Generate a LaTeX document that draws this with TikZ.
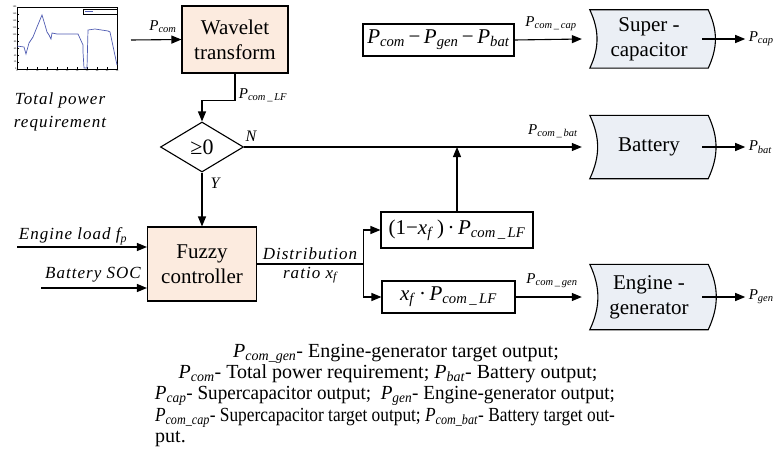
\documentclass[tikz,border=0pt]{standalone}
\usepackage{graphicx}
\usepackage{fontspec}
\setmainfont{Liberation Serif}
\newfontfamily\widefont[LetterSpace=6]{Liberation Serif}
\usetikzlibrary{arrows.meta,shapes.geometric,backgrounds}
\definecolor{peach}{RGB}{252,235,223}
\definecolor{storefill}{RGB}{235,239,245}
\definecolor{curveblue}{RGB}{80,92,178}
\newcommand\Pw[1]{\textit{P}\textsubscript{\textit{#1}}}
\newcommand\storebox[1]{\draw[line width=1.1pt,fill=storefill] (#1.north west) to[bend left=25] (#1.south west) -- (#1.south east) to[bend right=25] (#1.north east) -- cycle;}
\newsavebox\linebox
\newcommand\fitline[2]{\sbox\linebox{#2}\ifdim\wd\linebox>#1\relax\resizebox{#1}{\height}{\usebox\linebox}\else\makebox[#1][s]{#2}\fi}
\tikzset{
  blk/.style={draw,line width=1.1pt,fill=peach,align=center,inner sep=0,font=\fontsize{21}{25}\selectfont},
  frm/.style={draw,line width=1.1pt,inner sep=0,font=\fontsize{21}{25}\selectfont},
  sto/.style={align=center,inner sep=0,minimum width=118,font=\fontsize{21}{25}\selectfont},
  lab/.style={inner sep=0,font=\fontsize{15}{18}\selectfont},
  itl/.style={inner sep=0,align=center,font=\fontsize{17}{23}\selectfont\widefont\itshape},
  captxt/.style={inner sep=0,text height=14pt,text depth=4pt,font=\fontsize{20}{22}\selectfont},
  tick/.style={inner sep=0.4,font=\fontsize{2.5}{3}\selectfont},
  ar/.style={line width=1.1pt,-{Triangle[length=10pt,width=8pt]}},
  ln/.style={line width=1.1pt}
}
\begin{document}
\begin{tikzpicture}[x=1pt,y=-1pt]
\useasboundingbox (0,0) rectangle (775,468);
% thumbnail of the power curve
\draw[line width=0.4pt] (17,7) rectangle (117,69);
\foreach \i in {0,...,9}{
  \pgfmathtruncatemacro\v{20*\i}
  \draw[line width=0.3pt] (17,69-6.89*\i) -- ++(1.5,0);
  \node[tick,anchor=east] at (17,69-6.89*\i) {\v};
}
\foreach \i in {0,...,10}{
  \pgfmathtruncatemacro\v{5*\i}
  \draw[line width=0.3pt] (17+10*\i,69) -- ++(0,-1.5);
  \node[tick,anchor=north] at (17+10*\i,69) {\v};
}
\draw[line width=0.3pt] (83,9) rectangle (117,14);
\draw[curveblue,line width=0.6pt] (85,11.5) -- (93,11.5);
\draw[curveblue,line width=0.7pt] (17,46) -- (24,47) -- (26,54) -- (29,43) -- (33,37) -- (37,27) -- (42,15) -- (45,25) -- (47,32) -- (49,35) -- (51,39) -- (52,33) -- (57,34) -- (67,34) -- (78,34) -- (83,45) -- (83,52) -- (84,68) -- (87,68) -- (88,30) -- (95,29) -- (108,31) -- (110,32) -- (117,65);
\node[itl] (tp) at (60,112) {Total power\\requirement};

\node[blk,minimum width=106,minimum height=67] (w) at (235,39.5) {Wavelet\\transform};
\coordinate (in) at (131,40);
\node[lab] (lcom) at (163,27) {\Pw{com}};
\draw[ar] (in) -- (w.west);

\node[draw,diamond,line width=1.1pt,inner sep=0,minimum width=83,minimum height=50,aspect=1.66,font=\fontsize{22}{25}\selectfont] (d) at (202,147) {≥0};
\draw[ar] (w.south) -- ++(0,27) -| (d.north);
\node[lab] (llf) at (263,95) {\Pw{com\,\_\,LF}};
\node[lab,font=\fontsize{16}{18}\selectfont\itshape] (ln) at (251,136) {N};
\node[lab,font=\fontsize{16}{18}\selectfont\itshape] (ly) at (215,183) {Y};

\node[blk,minimum width=109,minimum height=74] (fz) at (202,264) {Fuzzy\\controller};
\draw[ar] (d.south) -- (fz.north);
\coordinate (e1) at (17,247);
\coordinate (e2) at (41,288);
\draw[ar] (e1) -- (e1 -| fz.west);
\draw[ar] (e2) -- (e2 -| fz.west);
\node[itl] (le) at (73,236) {Engine load \textit{f}\textsubscript{\textit{p}}};
\node[itl] (lb) at (93,275) {Battery SOC};
\node[itl] (ld) at (310,254) {Distribution};
\node[itl] (lr) at (310,275) {ratio \textit{x}\textsubscript{\textit{f}}};

\node[frm,minimum width=152,minimum height=36] (f1) at (457,230) {(1−\textit{x}\textsubscript{\textit{f}}\,)\,·\,\Pw{com\,\_\,LF}};
\node[frm,minimum width=133,minimum height=32] (f2) at (448.5,297) {\textit{x}\textsubscript{\textit{f}}\,·\,\Pw{com\,\_\,LF}};
\node[frm,minimum width=151,minimum height=32] (pb) at (438.5,40) {\Pw{com}\,−\,\Pw{gen}\,−\,\Pw{bat}};
\draw[ln] (fz.east) -- ++(106,0) coordinate (sp);
\draw[ar] (sp) |- (f1.west);
\draw[ar] (sp) |- (f2.west);

\node[sto,minimum height=58] (sc) at (649,39) {Super -\\capacitor};
\node[sto,minimum height=63] (bat) at (649,147) {Battery};
\node[sto,minimum height=65] (eg) at (649,297) {Engine -\\generator};
\begin{scope}[on background layer]
\storebox{sc}
\storebox{bat}
\storebox{eg}
\end{scope}

\draw[ar] (pb.east) -- ([xshift=-8]sc.west);
\draw[ar] (d.east) -- ([xshift=-8]bat.west);
\draw[ar] (f1.north) -- (f1.north |- d.east);
\draw[ar] (f2.east) -- ([xshift=-8]eg.west);
\node[lab] (lcc) at (551,24) {\Pw{com\,\_\,cap}};
\node[lab] (lcb) at (553,131) {\Pw{com\,\_\,bat}};
\node[lab] (lcg) at (552,281) {\Pw{com\,\_\,gen}};

\draw[ar] ([xshift=-6]sc.east) -- ++(43,0) node[lab,anchor=west,xshift=3] (ocap) {\Pw{cap}};
\draw[ar] ([xshift=-6]bat.east) -- ++(43,0) node[lab,anchor=west,xshift=3] (obat) {\Pw{bat}};
\draw[ar] ([xshift=-6]eg.east) -- ++(43,0) node[lab,anchor=west,xshift=3] (ogen) {\Pw{gen}};

\node[captxt] (c1) at (396,352) {\Pw{com\_gen}- Engine-generator target output;};
\node[captxt] (c2) at (388,373) {\Pw{com}- Total power requirement; \Pw{bat}- Battery output;};
\node[captxt] (c3) at (385,394) {\fitline{460pt}{\Pw{cap}- Supercapacitor output;\ \ \Pw{gen}- Engine-generator output;}};
\node[captxt] (c4) at (385,416) {\fitline{460pt}{\Pw{com\_cap}- Supercapacitor target output; \Pw{com\_bat}- Battery target out-}};
\node[captxt,anchor=west] (c5) at (155,437) {put.};
\end{tikzpicture}
\end{document}
